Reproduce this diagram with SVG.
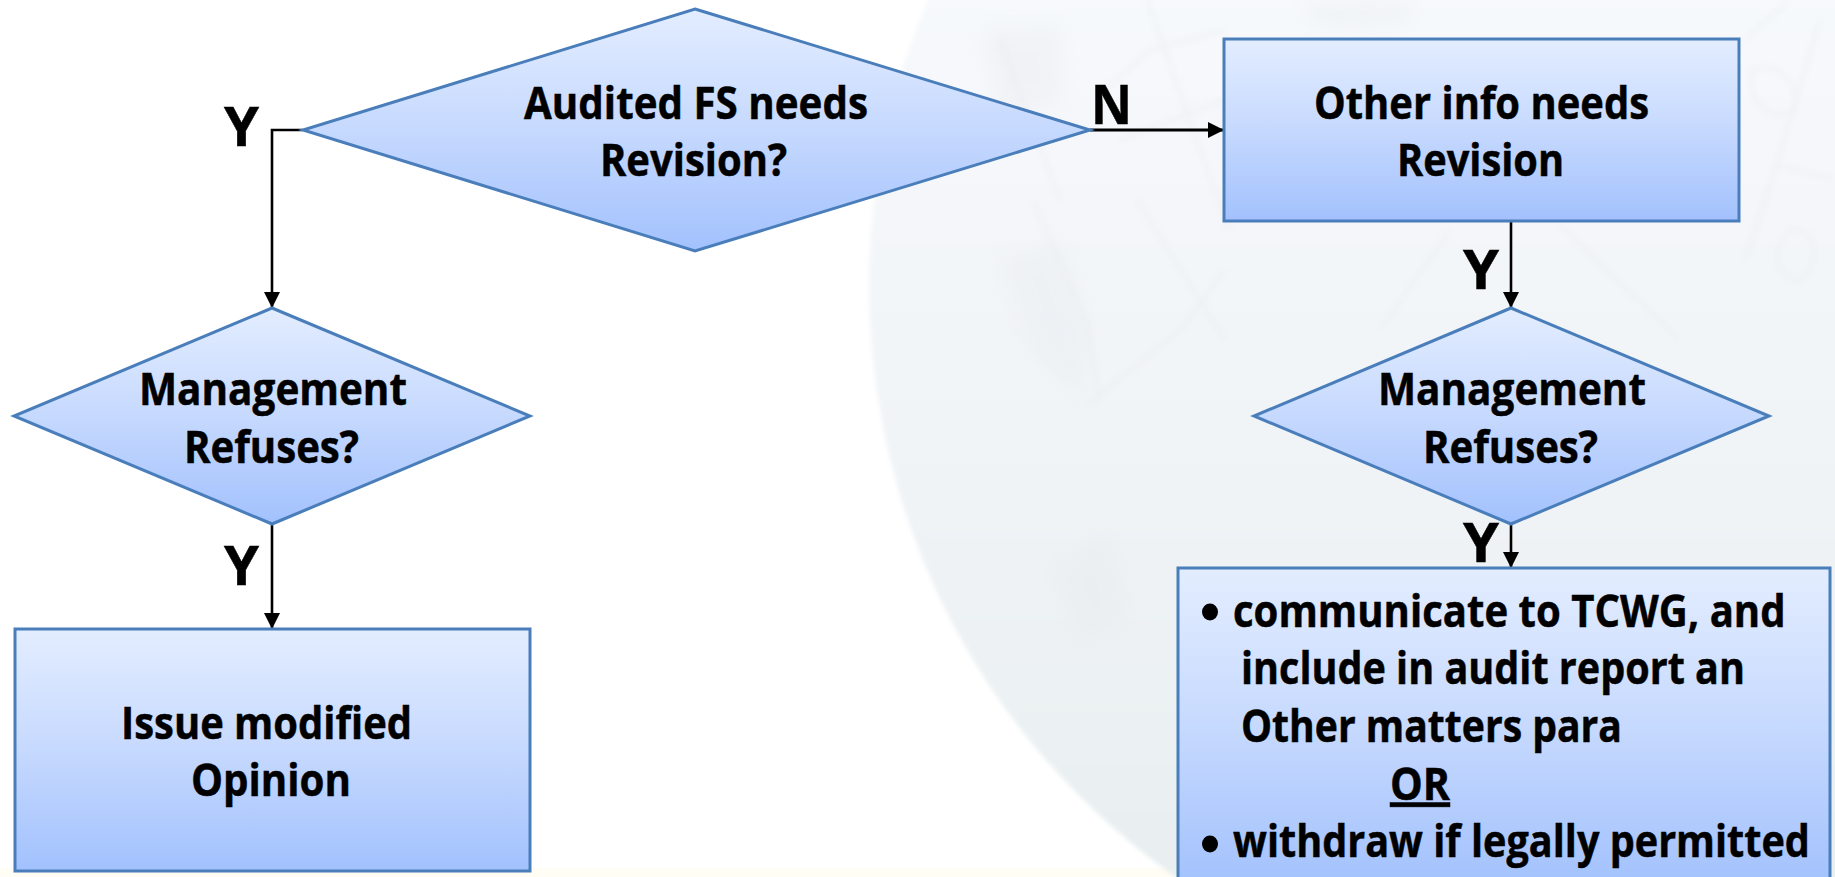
<svg xmlns="http://www.w3.org/2000/svg" width="1835" height="877" viewBox="0 0 1835 877">
<defs>
<linearGradient id="fill" x1="0" y1="0" x2="0" y2="1"><stop offset="0" stop-color="#e3edff"/><stop offset="0.5" stop-color="#c6d9fe"/><stop offset="1" stop-color="#a2c1fd"/></linearGradient>
<linearGradient id="globe" x1="0" y1="0" x2="0" y2="1"><stop offset="0.3" stop-color="#f7f9fc"/><stop offset="0.6" stop-color="#f1f4f7"/><stop offset="0.91" stop-color="#e8eff0"/></linearGradient>
<filter id="edge" x="-2%" y="-2%" width="104%" height="104%"><feGaussianBlur stdDeviation="2"/></filter>
<filter id="soft" x="-10%" y="-10%" width="120%" height="120%"><feGaussianBlur stdDeviation="3"/></filter>
<filter id="softer" x="-20%" y="-20%" width="140%" height="140%"><feGaussianBlur stdDeviation="10"/></filter>
<clipPath id="globeClip"><circle cx="1592" cy="286" r="723"/></clipPath>
<marker id="arrow" markerUnits="userSpaceOnUse" markerWidth="17" markerHeight="16" refX="16" refY="8" orient="auto"><path d="M0,0 L16,8 L0,16 Z" fill="#000"/></marker>
</defs>
<style>
.shape{fill:url(#fill);stroke:#4a7ebb;stroke-width:3}
.t{font-family:"Open Sans","Noto Sans","Liberation Sans",sans-serif;font-weight:700;fill:#000;font-size:44px;stroke:#000;stroke-width:0.5}
.lab{font-size:53px}
.edge{fill:none;stroke:#000;stroke-width:2.6;marker-end:url(#arrow)}
</style>
<rect width="1835" height="877" fill="#fff"/>
<rect y="868" width="1835" height="9" fill="#fffdf4"/>
<g id="background">
<circle cx="1592" cy="286" r="723" fill="url(#globe)" filter="url(#edge)"/>
<g clip-path="url(#globeClip)">
<g fill="#e3e6ea" opacity="0.28" filter="url(#softer)">
<path d="M985,30 L1060,25 L1065,100 L1000,120 Z"/>
<path d="M1000,260 L1060,240 L1090,330 L1080,400 L1030,350 Z"/>
<path d="M1050,570 L1110,530 L1130,620 L1080,640 Z"/>
<path d="M1300,0 L1420,0 L1400,25 L1320,28 Z"/>
</g>
<g fill="none" stroke="#e2e5e9" stroke-width="3" opacity="0.4" filter="url(#soft)">
<path d="M1033,200 L1087,325 L1100,400"/>
<path d="M1137,200 L1225,340"/>
<path d="M1087,405 L1180,330 L1225,270"/>
<path d="M1147,0 L1200,150 L1230,230"/>
<path d="M1105,90 L1150,50 L1225,30"/>
<path d="M1120,140 L1225,100"/>
<path d="M1060,200 L1000,40"/>
<path d="M1745,40 L1790,0"/>
<path d="M1820,20 L1775,170 L1745,260"/>
<path d="M1752,70 C1780,60 1800,85 1795,110 C1770,125 1745,100 1752,70 Z"/>
<path d="M1790,230 C1815,225 1825,260 1800,280 C1775,280 1770,250 1790,230 Z"/>
<path d="M1775,165 L1835,180"/>
<path d="M1560,225 L1680,340"/>
<path d="M1450,230 L1380,330"/>
</g>
</g>
</g>
<g id="connectors">
<path class="edge" d="M303,130 H272 V308"/>
<path class="edge" style="stroke-width:3" d="M1090,130 H1224"/>
<path class="edge" d="M1511,221 V308"/>
<path class="edge" d="M272,524 V629"/>
<path class="edge" d="M1511,524 V568"/>
</g>
<g id="d1"><polygon class="shape" points="695,9 1090,130 695,251 303,130"/>
<text class="t" x="524" y="118.5" textLength="344" lengthAdjust="spacingAndGlyphs">Audited FS needs</text>
<text class="t" x="600" y="175.5" textLength="187" lengthAdjust="spacingAndGlyphs">Revision?</text></g>
<g id="r1"><rect class="shape" x="1224" y="39" width="515" height="182"/>
<text class="t" x="1314" y="118.5" textLength="335" lengthAdjust="spacingAndGlyphs">Other info needs</text>
<text class="t" x="1397" y="175.5" textLength="167" lengthAdjust="spacingAndGlyphs">Revision</text></g>
<g id="d2"><polygon class="shape" points="272,308 530,416 272,524 14,416"/>
<text class="t" x="139" y="404.5" textLength="268" lengthAdjust="spacingAndGlyphs">Management</text>
<text class="t" x="184" y="462.5" textLength="175" lengthAdjust="spacingAndGlyphs">Refuses?</text></g>
<g id="d3"><polygon class="shape" points="1511,308 1769,416 1511,524 1254,416"/>
<text class="t" x="1378" y="404.5" textLength="268" lengthAdjust="spacingAndGlyphs">Management</text>
<text class="t" x="1423" y="462.5" textLength="175" lengthAdjust="spacingAndGlyphs">Refuses?</text></g>
<g id="r2"><rect class="shape" x="15" y="629" width="515" height="242"/>
<text class="t" x="121" y="738.5" textLength="291" lengthAdjust="spacingAndGlyphs">Issue modified</text>
<text class="t" x="191" y="795.5" textLength="160" lengthAdjust="spacingAndGlyphs">Opinion</text></g>
<g id="r3"><rect class="shape" x="1178" y="568" width="652" height="320"/>
<ellipse cx="1210" cy="612" rx="8" ry="8.5" fill="#000"/>
<text class="t" transform="matrix(0.9 0 0 1 1233 626.5)" textLength="614" lengthAdjust="spacingAndGlyphs">communicate to TCWG, and</text>
<text class="t" x="1241" y="683.5" textLength="504" lengthAdjust="spacingAndGlyphs">include in audit report an</text>
<text class="t" x="1241" y="741.5" textLength="381" lengthAdjust="spacingAndGlyphs">Other matters para</text>
<text class="t" x="1390" y="799.5" textLength="60" lengthAdjust="spacingAndGlyphs" text-decoration="underline">OR</text>
<ellipse cx="1210" cy="844" rx="8" ry="8.5" fill="#000"/>
<text class="t" transform="matrix(0.9 0 0 1 1233 856.5)" textLength="641" lengthAdjust="spacingAndGlyphs">withdraw if legally permitted</text></g>
<g id="labels">
<text class="t lab" x="224" y="146" textLength="35" lengthAdjust="spacingAndGlyphs">Y</text>
<text class="t lab" x="224" y="585" textLength="35" lengthAdjust="spacingAndGlyphs">Y</text>
<text class="t lab" x="1463" y="289" textLength="36" lengthAdjust="spacingAndGlyphs">Y</text>
<text class="t lab" x="1463" y="562" textLength="36" lengthAdjust="spacingAndGlyphs">Y</text>
<text class="t lab" x="1091" y="124" textLength="41" lengthAdjust="spacingAndGlyphs">N</text>
</g>
</svg>
